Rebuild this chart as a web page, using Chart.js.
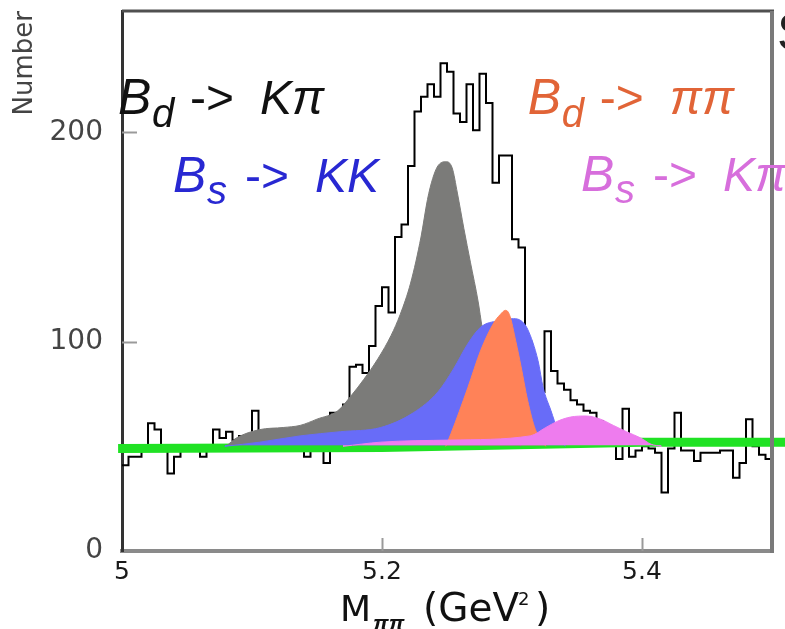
<!DOCTYPE html>
<html>
<head>
<meta charset="utf-8">
<script src="https://cdn.jsdelivr.net/npm/chart.js@4.4.1/dist/chart.umd.min.js"></script>
<style>
  html, body { margin: 0; padding: 0; background: #fff; }
  #wrap { width: 785px; height: 629px; position: relative; }
</style>
</head>
<body>
<div id="wrap"><canvas id="c"></canvas></div>
<script>
// Invariant-mass histogram: 100 bins of 5 MeV from 5.0 to 5.5 GeV
const binStart = 5.0;
const binWidth = 0.005;
const counts = [
  41, 45, 45, 50, 61, 58, 50, 37, 45, 49,
  50, 50, 45, 50, 58, 54, 57, 53, 55, 55,
  67, 57, 56, 58, 56, 57, 55, 58, 45, 52,
  55, 42, 66, 62, 70, 88, 89, 85, 98, 117,
  126, 114, 150, 156, 184, 210, 217, 223, 217, 233,
  229, 209, 205, 223, 201, 228, 214, 176, 189, 189,
  149, 145, 100, 88, 76, 105, 86, 80, 77, 72,
  70, 67, 66, 62, 60, 58, 44, 68, 45, 48,
  50, 49, 47, 28, 49, 66, 48, 48, 43, 47,
  47, 47, 48, 48, 35, 42, 63, 50, 46, 44
];

// Fit components
const bkgX = [4.997, 5.2, 5.4, 5.51];
const bkgY = [49, 49.5, 52, 52];

const kpiX = [5.080, 5.088, 5.106, 5.124, 5.137, 5.150, 5.166, 5.176, 5.186, 5.197, 5.207, 5.214,
              5.222, 5.230, 5.235, 5.239, 5.243, 5.249, 5.254, 5.258, 5.263, 5.268, 5.274,
              5.277, 5.284, 5.291, 5.299, 5.307];
const kpiY = [50, 54, 58, 59, 60, 63, 67, 74, 82, 92, 103, 113,
              128, 150, 168, 178, 184, 186, 183, 171, 154, 138, 119,
              107, 86, 66, 55, 50];

const kkX = [5.079, 5.106, 5.137, 5.168, 5.199, 5.224, 5.243, 5.255, 5.266, 5.276, 5.289,
             5.301, 5.307, 5.312, 5.320, 5.324, 5.330, 5.335, 5.341];
const kkY = [50, 52, 55, 57, 59, 66, 76, 87, 99, 107, 110,
             111, 110, 106, 91, 78, 67, 58, 50];

const pipiX = [5.249, 5.253, 5.266, 5.276, 5.286, 5.291, 5.295, 5.298, 5.303, 5.307, 5.312, 5.318, 5.326];
const pipiY = [50, 56, 78, 96, 109, 113, 115, 113, 100, 88, 72, 58, 50];

const bsKpiX = [5.170, 5.199, 5.253, 5.314, 5.326, 5.335, 5.345, 5.357, 5.368, 5.378, 5.388, 5.399, 5.407, 5.415];
const bsKpiY = [50, 52, 53, 55, 59, 62, 64, 64.5, 63, 60, 57, 54, 51, 50];

// Axis ticks
const xTicks = [5, 5.2, 5.4];
const xTickLabels = ['5', '5.2', '5.4'];
const yTicks = [0, 100, 200];
const yTickLabels = ['0', '100', '200'];

// Decay-channel captions: [parent, subscript, arrow, product]
const captions = [
  ['B', 'd', '->', 'Kπ'],
  ['B', 's', '->', 'KK'],
  ['B', 'd', '->', 'ππ'],
  ['B', 's', '->', 'Kπ']
];

const histPoints = counts.map((n, i) => ({ x: binStart + i * binWidth, y: n }));
histPoints.push({ x: binStart + counts.length * binWidth, y: counts[counts.length - 1] });
const pts = (xs, ys) => xs.map((x, i) => ({ x, y: ys[i] }));

const FONT = '"Liberation Sans", Arial, Helvetica, sans-serif';
const AXIS_FONT = '"DejaVu Sans", Verdana, sans-serif';
const FILL_BASE = 50.5;

function curve(xs, ys, color, order) {
  return {
    data: pts(xs, ys),
    borderColor: color,
    borderWidth: 1,
    backgroundColor: color,
    fill: { value: FILL_BASE },
    pointRadius: 0,
    cubicInterpolationMode: 'monotone',
    order
  };
}

const captionStyle = [
  { color: '#111111', at: [4.997, 208.6], subDrop: 13 },
  { color: 'rgb(40,40,210)', at: [5.0393, 171.3], subDrop: 12 },
  { color: 'rgb(225,100,55)', at: [5.3121, 208.6], subDrop: 13 },
  { color: 'rgb(215,110,220)', at: [5.353, 171.8], subDrop: 12 }
];

const decorations = {
  id: 'decorations',
  afterDatasetsDraw(chart) {
    const { ctx, chartArea: a, scales: { x, y } } = chart;
    ctx.save();
    // inner tick marks
    ctx.strokeStyle = '#9a9a9a';
    ctx.lineWidth = 2;
    yTicks.slice(1).forEach(v => {
      const py = Math.round(y.getPixelForValue(v)) + 0.5;
      ctx.beginPath(); ctx.moveTo(a.left, py); ctx.lineTo(a.left + 15, py); ctx.stroke();
    });
    xTicks.slice(1).forEach(v => {
      const px = Math.round(x.getPixelForValue(v)) + 0.5;
      ctx.beginPath(); ctx.moveTo(px, a.bottom); ctx.lineTo(px, a.bottom - 13); ctx.stroke();
    });
    // top and right frame
    ctx.strokeStyle = '#505050';
    ctx.lineWidth = 3;
    ctx.beginPath(); ctx.moveTo(a.left, a.top); ctx.lineTo(a.right + 2, a.top); ctx.stroke();
    ctx.strokeStyle = '#7a7a7a';
    ctx.lineWidth = 4;
    ctx.beginPath(); ctx.moveTo(a.right, a.top); ctx.lineTo(a.right, a.bottom + 2); ctx.stroke();
    ctx.restore();
  },
  afterDraw(chart) {
    const { ctx, chartArea: a, scales: { x, y } } = chart;
    ctx.save();
    ctx.textBaseline = 'alphabetic';
    ctx.textAlign = 'left';
    // channel captions
    captions.forEach((c, i) => {
      const s = captionStyle[i];
      const x0 = x.getPixelForValue(s.at[0]);
      const base = y.getPixelForValue(s.at[1]);
      ctx.fillStyle = s.color;
      ctx.font = 'italic 50px ' + FONT;
      ctx.fillText(c[0], x0, base);
      ctx.font = 'italic 40px ' + FONT;
      ctx.fillText(c[1], x0 + 34, base + s.subDrop);
      ctx.font = '48px ' + FONT;
      ctx.fillText(c[2], x0 + 72, base);
      ctx.font = 'italic 48px ' + FONT;
      ctx.fillText(c[3], x0 + 142, base);
    });
    // clipped caption fragment at the right edge
    ctx.fillStyle = '#222';
    ctx.font = '52px ' + FONT;
    ctx.fillText('S', a.right + 5, a.top + 39);
    // x-axis title with subscript and superscript
    const cx = (a.left + a.right) / 2;
    const base = a.bottom + 70;
    const x0 = cx - 107;
    ctx.fillStyle = '#111';
    ctx.font = '36px ' + AXIS_FONT;
    ctx.fillText('M', x0, base);
    ctx.font = 'italic bold 22px ' + FONT;
    ctx.fillText('ππ', x0 + 33, base + 10);
    ctx.font = '39px ' + AXIS_FONT;
    ctx.fillText('(GeV', x0 + 83, base);
    ctx.font = '18px ' + AXIS_FONT;
    ctx.fillText('2', x0 + 178, base - 16);
    ctx.font = '39px ' + AXIS_FONT;
    ctx.fillText(')', x0 + 195, base);
    ctx.restore();
  }
};

new Chart(document.getElementById('c'), {
  type: 'line',
  data: {
    datasets: [
      {
        data: histPoints,
        stepped: 'before',
        borderColor: '#000',
        borderWidth: 2,
        pointRadius: 0,
        fill: false,
        order: 6
      },
      {
        data: pts(bkgX, bkgY),
        borderColor: 'rgb(32,226,36)',
        borderWidth: 9,
        pointRadius: 0,
        fill: false,
        clip: false,
        order: 5
      },
      curve(kpiX, kpiY, '#7b7b79', 4),
      curve(kkX, kkY, 'rgb(104,108,248)', 3),
      curve(pipiX, pipiY, 'rgb(255,130,88)', 2),
      curve(bsKpiX, bsKpiY, 'rgb(238,124,238)', 1)
    ]
  },
  options: {
    responsive: true,
    maintainAspectRatio: false,
    animation: false,
    devicePixelRatio: 1,
    layout: { padding: { top: 11, right: 13, left: 0, bottom: 0 } },
    plugins: { legend: { display: false }, tooltip: { enabled: false } },
    scales: {
      x: {
        type: 'linear',
        min: 5.0,
        max: 5.5,
        afterFit: s => { s.height = 78; s.paddingLeft = 0; s.paddingRight = 0; },
        afterBuildTicks: s => { s.ticks = xTicks.map(v => ({ value: v })); },
        grid: { display: false, drawTicks: false },
        border: { display: true, color: '#8a8a8a', width: 4 },
        ticks: {
          padding: 6,
          color: '#1a1a1a',
          font: { family: AXIS_FONT, size: 25 },
          maxRotation: 0,
          autoSkip: false,
          callback: v => xTickLabels[xTicks.findIndex(t => Math.abs(t - v) < 1e-9)] ?? ''
        }
      },
      y: {
        min: 0,
        max: 258,
        afterFit: s => { s.width = 122; s.paddingTop = 0; s.paddingBottom = 0; },
        afterBuildTicks: s => { s.ticks = yTicks.map(v => ({ value: v })); },
        grid: { display: false, drawTicks: false },
        border: { display: true, color: '#333', width: 3 },
        ticks: {
          padding: 19,
          color: '#444',
          font: { family: AXIS_FONT, size: 28 },
          autoSkip: false,
          callback: v => yTickLabels[yTicks.indexOf(v)] ?? ''
        },
        title: {
          display: true,
          text: 'Number',
          align: 'end',
          color: '#444',
          font: { family: AXIS_FONT, size: 26 },
          padding: { top: 10, bottom: 0 }
        }
      }
    }
  },
  plugins: [decorations]
});
</script>
</body>
</html>
